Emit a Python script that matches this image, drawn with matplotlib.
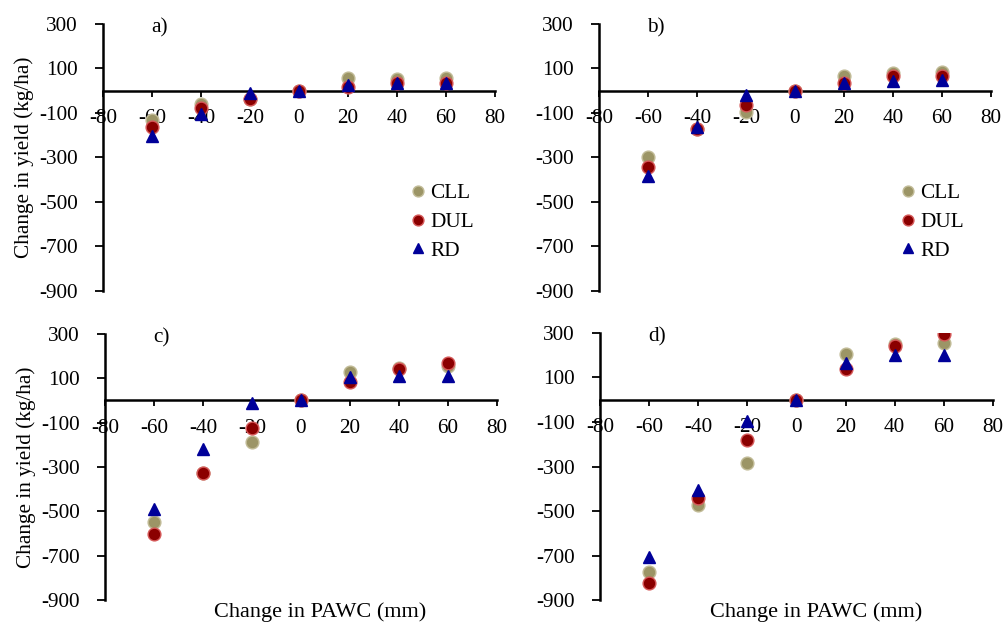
import matplotlib
matplotlib.use("Agg")
import matplotlib.pyplot as plt

plt.rcParams['font.family'] = ['Liberation Serif', 'DejaVu Serif']
plt.rcParams['axes.unicode_minus'] = False

x_vals = [-60, -40, -20, 0, 20, 40, 60]

a_cll = [-130, -60, -35, 0, 56, 53, 59]
a_dul = [-165, -76, -35, 0, 15, 36, 36]
a_rd = [-205, -103, -9, 0, 26, 33, 36]

b_cll = [-297, -171, -95, 0, 67, 79, 83]
b_dul = [-345, -174, -65, 0, 36, 67, 67]
b_rd = [-383, -164, -17, 0, 33, 44, 48]

c_cll = [-547, -325, -186, 0, 127, 147, 155]
c_dul = [-600, -327, -126, 0, 85, 142, 168]
c_rd = [-489, -218, -12, 0, 105, 109, 111]

d_cll = [-774, -474, -285, 0, 206, 252, 253]
d_dul = [-823, -441, -183, 0, 139, 241, 297]
d_rd = [-706, -406, -97, 0, 165, 200, 200]

panel_labels = ['a)', 'b)', 'c)', 'd)']
series_names = ['CLL', 'DUL', 'RD']
x_ticks = [-80, -60, -40, -20, 0, 20, 40, 60, 80]
y_ticks = [-900, -700, -500, -300, -100, 100, 300]

panels = [
    (a_cll, a_dul, a_rd),
    (b_cll, b_dul, b_rd),
    (c_cll, c_dul, c_rd),
    (d_cll, d_dul, d_rd),
]

positions = [
    [0.1024, 0.533, 0.3896, 0.4285],
    [0.5954, 0.533, 0.3896, 0.4285],
    [0.1044, 0.0369, 0.3896, 0.427],
    [0.5964, 0.0369, 0.3906, 0.4286],
]

fig = plt.figure(figsize=(10.06, 6.23), dpi=100)

FS = 15.3
for i, (pos, (cll, dul, rd)) in enumerate(zip(positions, panels)):
    ax = fig.add_axes(pos)
    ax.plot(x_vals, cll, linestyle='none', marker='o', markersize=9.2,
            markerfacecolor='#9c9566', markeredgecolor='#c2bc98',
            markeredgewidth=1.0, label=series_names[0], zorder=3)
    ax.plot(x_vals, dul, linestyle='none', marker='o', markersize=9.2,
            markerfacecolor='#8b0000', markeredgecolor='#d65a5a',
            markeredgewidth=1.0, label=series_names[1], zorder=4)
    ax.plot(x_vals, rd, linestyle='none', marker='^', markersize=8.7,
            markerfacecolor='#000099', markeredgecolor='#000099',
            label=series_names[2], zorder=5)
    ax.set_xlim(-80, 80)
    ax.set_ylim(-900, 300)
    ax.set_xticks(x_ticks)
    ax.set_yticks(y_ticks)
    ax.spines['bottom'].set_position(('data', 0))
    ax.spines['top'].set_visible(False)
    ax.spines['right'].set_visible(False)
    for s in ['left', 'bottom']:
        ax.spines[s].set_linewidth(1.8)
        ax.spines[s].set_color('black')
    ax.tick_params(axis='both', labelsize=FS, width=1.3, direction='out')
    ax.tick_params(axis='y', length=6, pad=12)
    ax.tick_params(axis='x', length=4, pad=9)
    ax.patch.set_alpha(0)
    ax.text(0.145, 0.985, panel_labels[i], transform=ax.transAxes,
            fontsize=FS, ha='center', va='center')
    if i % 2 == 0:
        ax.set_ylabel('Change in yield (kg/ha)', fontsize=FS, labelpad=4)
    if i >= 2:
        ax.text(0.55, -0.045, 'Change in PAWC (mm)', transform=ax.transAxes,
                fontsize=16, ha='center', va='center')
    if i < 2:
        ax.legend(loc='center', bbox_to_anchor=(0.86 if i == 0 else 0.845, 0.258),
                  frameon=False, fontsize=FS, handletextpad=0.0,
                  labelspacing=0.42, markerscale=0.85, handlelength=1.1,
                  borderpad=0.1)

fig.savefig('out.png', dpi=100)
